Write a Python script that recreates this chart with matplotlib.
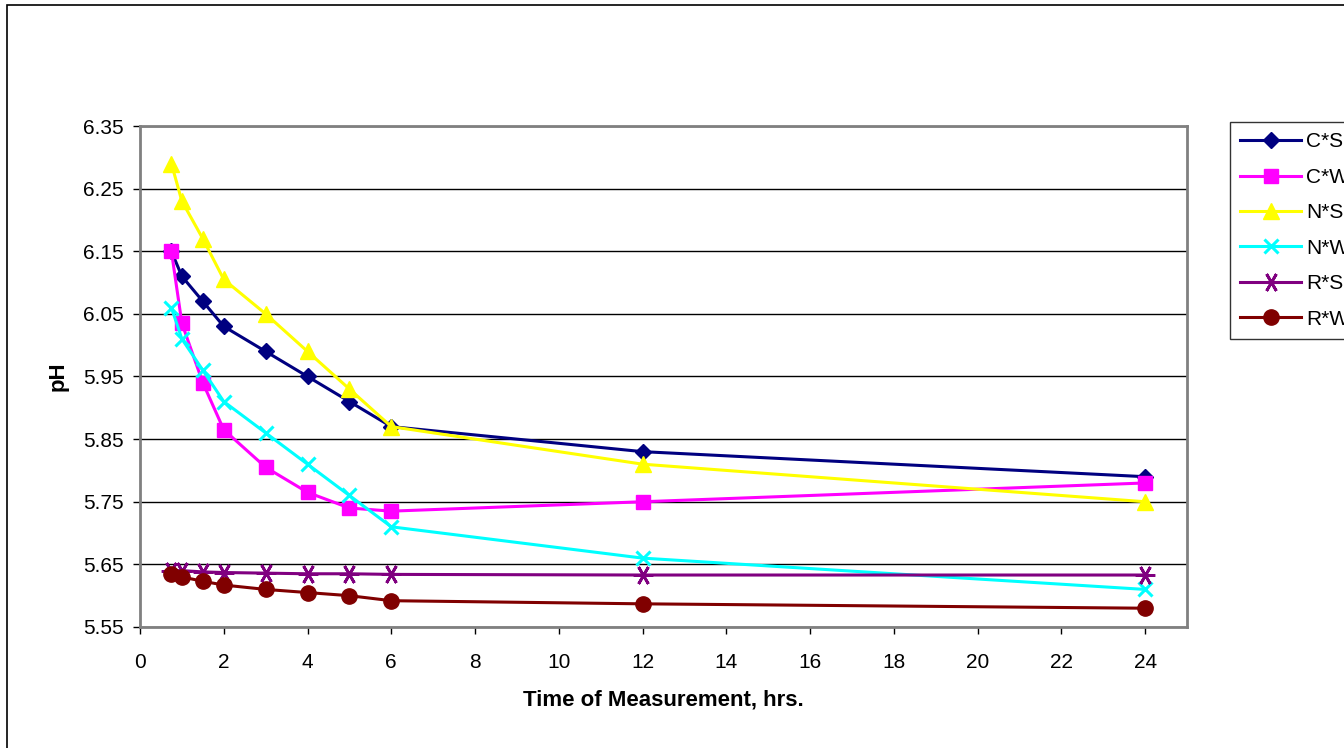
import matplotlib
matplotlib.use("Agg")
import matplotlib.pyplot as plt
from matplotlib.patches import Rectangle

plt.rcParams['font.family'] = ['Liberation Sans', 'DejaVu Sans']

hours = [0.75, 1, 1.5, 2, 3, 4, 5, 6, 12, 24]
series_names = ["C*S", "C*W", "N*S", "N*W", "R*S", "R*W"]
cs = [6.15, 6.11, 6.07, 6.03, 5.99, 5.95, 5.91, 5.87, 5.83, 5.79]
cw = [6.15, 6.035, 5.94, 5.865, 5.805, 5.765, 5.74, 5.735, 5.75, 5.78]
ns = [6.29, 6.23, 6.17, 6.105, 6.05, 5.99, 5.93, 5.87, 5.81, 5.75]
nw = [6.06, 6.01, 5.96, 5.91, 5.86, 5.81, 5.76, 5.71, 5.66, 5.61]
rs = [5.64, 5.64, 5.638, 5.637, 5.636, 5.635, 5.635, 5.634, 5.633, 5.633]
rw = [5.635, 5.63, 5.623, 5.617, 5.61, 5.605, 5.60, 5.592, 5.587, 5.58]
x_ticks = list(range(0, 25, 2))
y_ticks = [5.55, 5.65, 5.75, 5.85, 5.95, 6.05, 6.15, 6.25, 6.35]

values = [cs, cw, ns, nw, rs, rw]
colors = ["#000080", "#FF00FF", "#FFFF00", "#00FFFF", "#800080", "#800000"]
markers = ["D", "s", "^", "x", (6, 2, 90), "o"]
msizes = [8, 10.5, 11, 10, 14, 11]
mews = [1, 1, 1, 2.2, 2.0, 1]

W, H = 1344, 748
fig = plt.figure(figsize=(W / 100, H / 100), dpi=100)
ax = fig.add_axes([140 / W, 1 - 627 / H, (1187 - 140) / W, (627 - 126) / H])

# chart area border
fig.patches.append(Rectangle((7 / W, -0.1), 1.2, 1 - 5 / H + 0.1, transform=fig.transFigure,
                             fill=False, edgecolor="black", linewidth=1.2))

lines = []
for name, vals, c, m, ms, mew in zip(series_names, values, colors, markers, msizes, mews):
    ln, = ax.plot(hours, vals, color=c, marker=m, markersize=ms, linewidth=2.2,
                  markeredgewidth=mew, markeredgecolor=c, markerfacecolor=c,
                  label=name, clip_on=False)
    lines.append(ln)

ax.set_xlim(0, 25)
ax.set_ylim(5.55, 6.35)
ax.set_xticks(x_ticks)
ax.set_yticks(y_ticks)
ax.set_yticklabels([f"{v:.2f}" for v in y_ticks])
ax.yaxis.grid(True, color="black", linewidth=1)
ax.set_axisbelow(True)
for s in ax.spines.values():
    s.set_color("#808080")
    s.set_linewidth(2)
ax.tick_params(axis="both", direction="out", length=5, width=1, color="black",
               labelsize=15, pad=7)
ax.tick_params(axis="x", pad=13.5)
ax.set_xlabel("Time of Measurement, hrs.", fontsize=16, fontweight="bold", labelpad=13)
ax.set_ylabel("pH", fontsize=16, fontweight="bold", labelpad=10)

leg = fig.legend(handles=lines, loc="upper left", bbox_to_anchor=(1230 / W, 1 - 122 / H),
                 borderaxespad=0, frameon=True, fancybox=False, edgecolor="black",
                 fontsize=15, handlelength=2.9, labelspacing=0.79, borderpad=0.5,
                 handletextpad=0.25)
leg.get_frame().set_linewidth(1)

fig.savefig("out.png", dpi=100)
